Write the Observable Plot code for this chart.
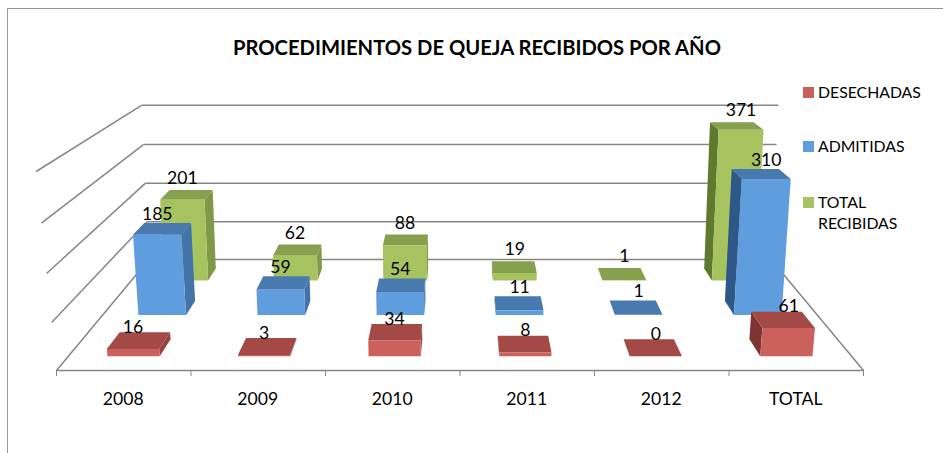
<!DOCTYPE html>
<html><head><meta charset="utf-8">
<script src="https://cdn.jsdelivr.net/npm/d3@7"></script>
<script src="https://cdn.jsdelivr.net/npm/@observablehq/plot@0.6"></script>
<style>
html,body{margin:0;padding:0;background:#fff}
#wrap{position:relative;width:943px;height:453px;overflow:hidden;font-family:Lato,"Open Sans",sans-serif;color:#000}
#frame{position:absolute;left:7px;top:8px;right:-5px;bottom:-5px;border:1px solid #999}
#title{position:absolute;left:6px;width:942px;top:35px;text-align:center;font-weight:700;font-size:20.2px;line-height:24px;white-space:nowrap}
#chart{position:absolute;left:0;top:0}
.lg{position:absolute;left:818px;font-size:15.8px;line-height:21px}
.sw{position:absolute;left:803px;width:11px;height:11px}
</style></head><body>
<div id="wrap"><div id="frame"></div><div id="chart"></div>
<div id="title">PROCEDIMIENTOS DE QUEJA RECIBIDOS POR AÑO</div>
<div id="legend"></div></div>
<script>
const categories = ["2008","2009","2010","2011","2012","TOTAL"];
const desechadas = [16,3,34,8,0,61];
const admitidas = [185,59,54,11,1,310];
const recibidas = [201,62,88,19,1,371];
const gridValues = [0,100,200,300,400];
const seriesNames = ["DESECHADAS","ADMITIDAS","TOTAL RECIBIDAS"];
const seriesValues = [desechadas,admitidas,recibidas];
const palette = [
  {front:"#CB605C",top:"#A34A47",right:"#96423F",left:"#7E3431",key:"#C8605C",labelDy:-5},
  {front:"#5F9DDE",top:"#487AAF",right:"#4374A8",left:"#2F5787",key:"#5F9DDE",labelDy:-9},
  {front:"#A6C35F",top:"#86A04E",right:"#7F9948",left:"#5F7A2F",key:"#A6C35F",labelDy:-11.5}
];
// 3D frame: u across categories (-1..1), d depth (0 front..1 back), h value
function project(u,d,h){
  const D = 1 + .297*d - .00012*h + .000045*d*h;
  return {x: 459.5 + 403.5*u/D, y: (370 - 34*d - .518*h + .01*d*h)/D};
}
const uOf = c => -1 + 2*c/categories.length;
const barHalf = .2, depthHalf = .065;
const faces = [], labels = [];
let id = 0;
[2,1,0].forEach(s => {
  seriesValues[s].forEach((v,c) => {
    const u0 = uOf(c + .5 - barHalf), u1 = uOf(c + .5 + barHalf);
    const dc = (s + .5)/3, d0 = dc - depthHalf, d1 = dc + depthHalf;
    const add = (fill,pts) => { id++; pts.forEach(p => { const q = project(...p); faces.push({id,fill,x:q.x,y:q.y}); }); };
    const col = palette[s];
    if (u0 > 0) add(col.left,[[u0,d0,0],[u0,d1,0],[u0,d1,v],[u0,d0,v]]);
    if (u1 < 0) add(col.right,[[u1,d0,0],[u1,d1,0],[u1,d1,v],[u1,d0,v]]);
    add(col.top,[[u0,d0,v],[u1,d0,v],[u1,d1,v],[u0,d1,v]]);
    add(col.front,[[u0,d0,0],[u1,d0,0],[u1,d0,v],[u0,d0,v]]);
    labels.push({x:project((u0+u1)/2,d0,v).x,y:project((u0+u1)/2,d1,v).y + col.labelDy,text:String(v)});
  });
});
const segs = [];
gridValues.forEach(g => {
  const a = project(-1,0,g), b = project(-1,1,g), e = project(1,1,g);
  segs.push({x1:a.x,y1:a.y,x2:b.x,y2:b.y},{x1:b.x,y1:b.y,x2:e.x,y2:e.y});
});
{
  const a = project(-1,0,0), b = project(1,0,0), e = project(1,1,0);
  segs.push({x1:a.x,y1:a.y,x2:b.x,y2:b.y},{x1:b.x,y1:b.y,x2:e.x,y2:e.y});
}
const ticks = d3.range(categories.length+1).map(c => project(uOf(c),0,0));
const catLabels = categories.map((t,c) => ({...project(uOf(c+.5),0,0),t}));

const chart = Plot.plot({
  width:943,height:453,margin:0,
  x:{type:"identity",axis:null},y:{type:"identity",axis:null},
  color:{type:"identity"},
  style:{background:"transparent",fontFamily:"Lato, 'Open Sans', sans-serif"},
  marks:[
    Plot.link(segs,{x1:"x1",y1:"y1",x2:"x2",y2:"y2",stroke:"#868686",strokeWidth:1.5}),
    Plot.ruleX(ticks,{x:"x",y1:"y",y2:d=>d.y+6,stroke:"#868686",strokeWidth:1}),
    Plot.line(faces,{x:"x",y:"y",z:"id",fill:"fill",stroke:"none"}),
    Plot.text(labels,{x:"x",y:"y",text:"text",fontSize:17.6,fill:"#000"}),
    Plot.text(catLabels,{x:"x",y:"y",text:"t",dy:28.5,dx:-0.5,fontSize:17.6,fill:"#000"})
  ]
});
document.getElementById("chart").append(chart);
const lg = document.getElementById("legend");
const rows = [[91,seriesNames[0]],[145,seriesNames[1]],[201,"TOTAL"],[222,"RECIBIDAS"]];
rows.forEach(([cy,t],i) => {
  const e = document.createElement("div"); e.className="lg"; e.textContent=t; e.style.top=(cy-10.5)+"px"; lg.append(e);
  if (i<3){const k=document.createElement("div"); k.className="sw"; k.style.background=palette[i].key; k.style.top=(cy-4.5)+"px"; lg.append(k);}
});
</script></body></html>
